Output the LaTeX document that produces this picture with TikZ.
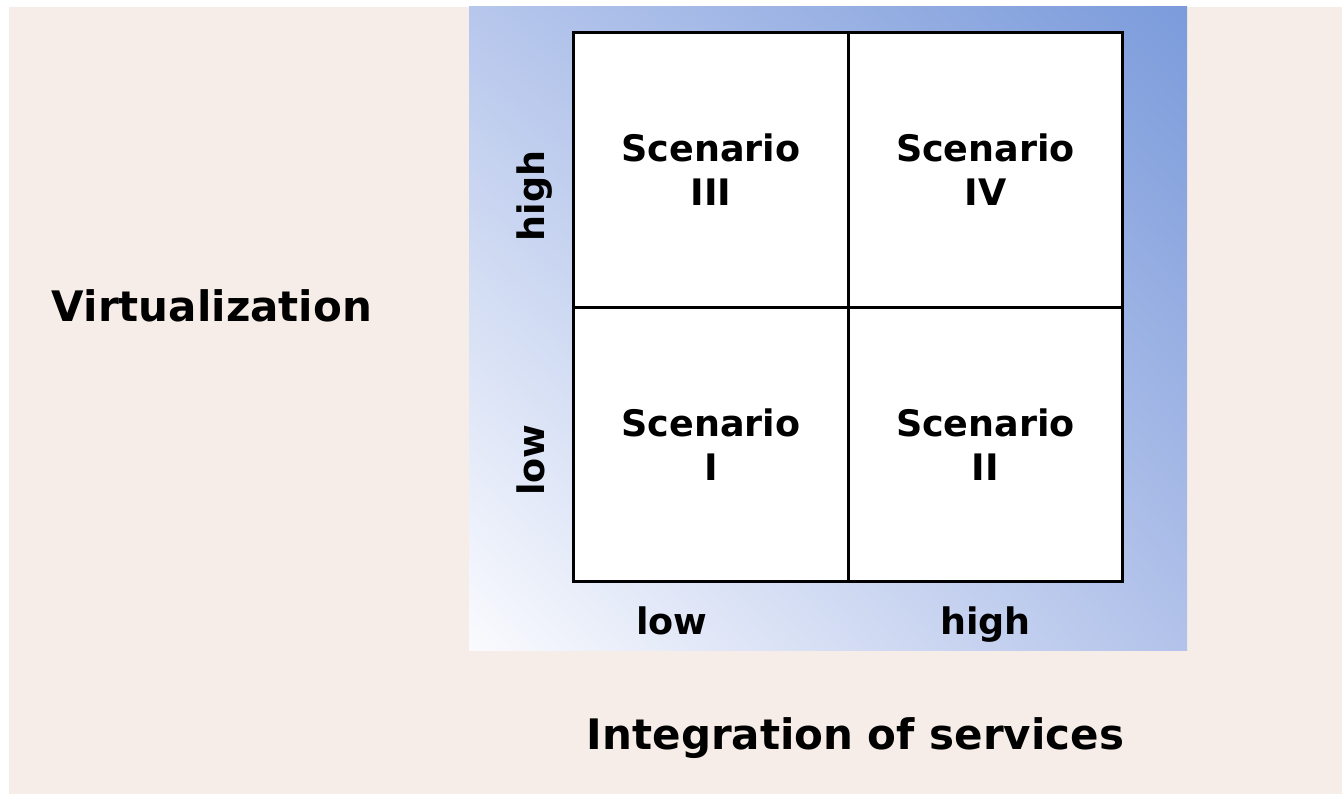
\documentclass[tikz,border=0pt]{standalone}
\usepackage{fontspec}
\setmainfont{DejaVu Sans}
\usetikzlibrary{shadings}

\definecolor{pagebg}{HTML}{F6EDE8}
\definecolor{panelTL}{HTML}{B7C7EC}
\definecolor{panelTR}{HTML}{7B9BDB}
\definecolor{panelBL}{HTML}{FAFBFE}
\definecolor{panelBR}{HTML}{B2C2EA}

\tikzset{
  cell/.style={rectangle, draw=black, fill=white, line width=2.6pt,
    minimum width=274.5pt, minimum height=274.5pt, inner sep=0pt,
    align=center, font=\bfseries\fontsize{36.5}{44}\selectfont},
  tick/.style={inner sep=0pt, anchor=base, font=\bfseries\fontsize{36.5}{44}\selectfont},
  axis/.style={inner sep=0pt, anchor=base, font=\bfseries\fontsize{42}{50}\selectfont}
}

\begin{document}
\begin{tikzpicture}[x=1pt,y=-1pt]
  \useasboundingbox (0,0) rectangle (1342,794);
  \fill[white] (0,0) rectangle (1342,794);
  \fill[pagebg] (9,7) rectangle (1342,794);
  % blue panel behind the grid
  \shade[upper left=panelTL, upper right=panelTR,
         lower left=panelBL, lower right=panelBR] (469,7) rectangle (1187,650);

  \node[cell] (s3) at (711,170)     {Scenario\\III};
  \node[cell] (s4) at (985.5,170)   {Scenario\\IV};
  \node[cell] (s1) at (711,444.5)   {Scenario\\I};
  \node[cell] (s2) at (985.5,444.5) {Scenario\\II};

  \node[tick] (xlow)  at (672,634)   {low};
  \node[tick] (xhigh) at (985.5,634) {high};
  \node[tick, rotate=90] (yhigh) at (544,196) {high};
  \node[tick, rotate=90] (ylow)  at (544,460) {low};

  \node[axis] (yaxis) at (212,322)   {Virtualization};
  \node[axis] (xaxis) at (855.5,749) {Integration of services};
\end{tikzpicture}
\end{document}
